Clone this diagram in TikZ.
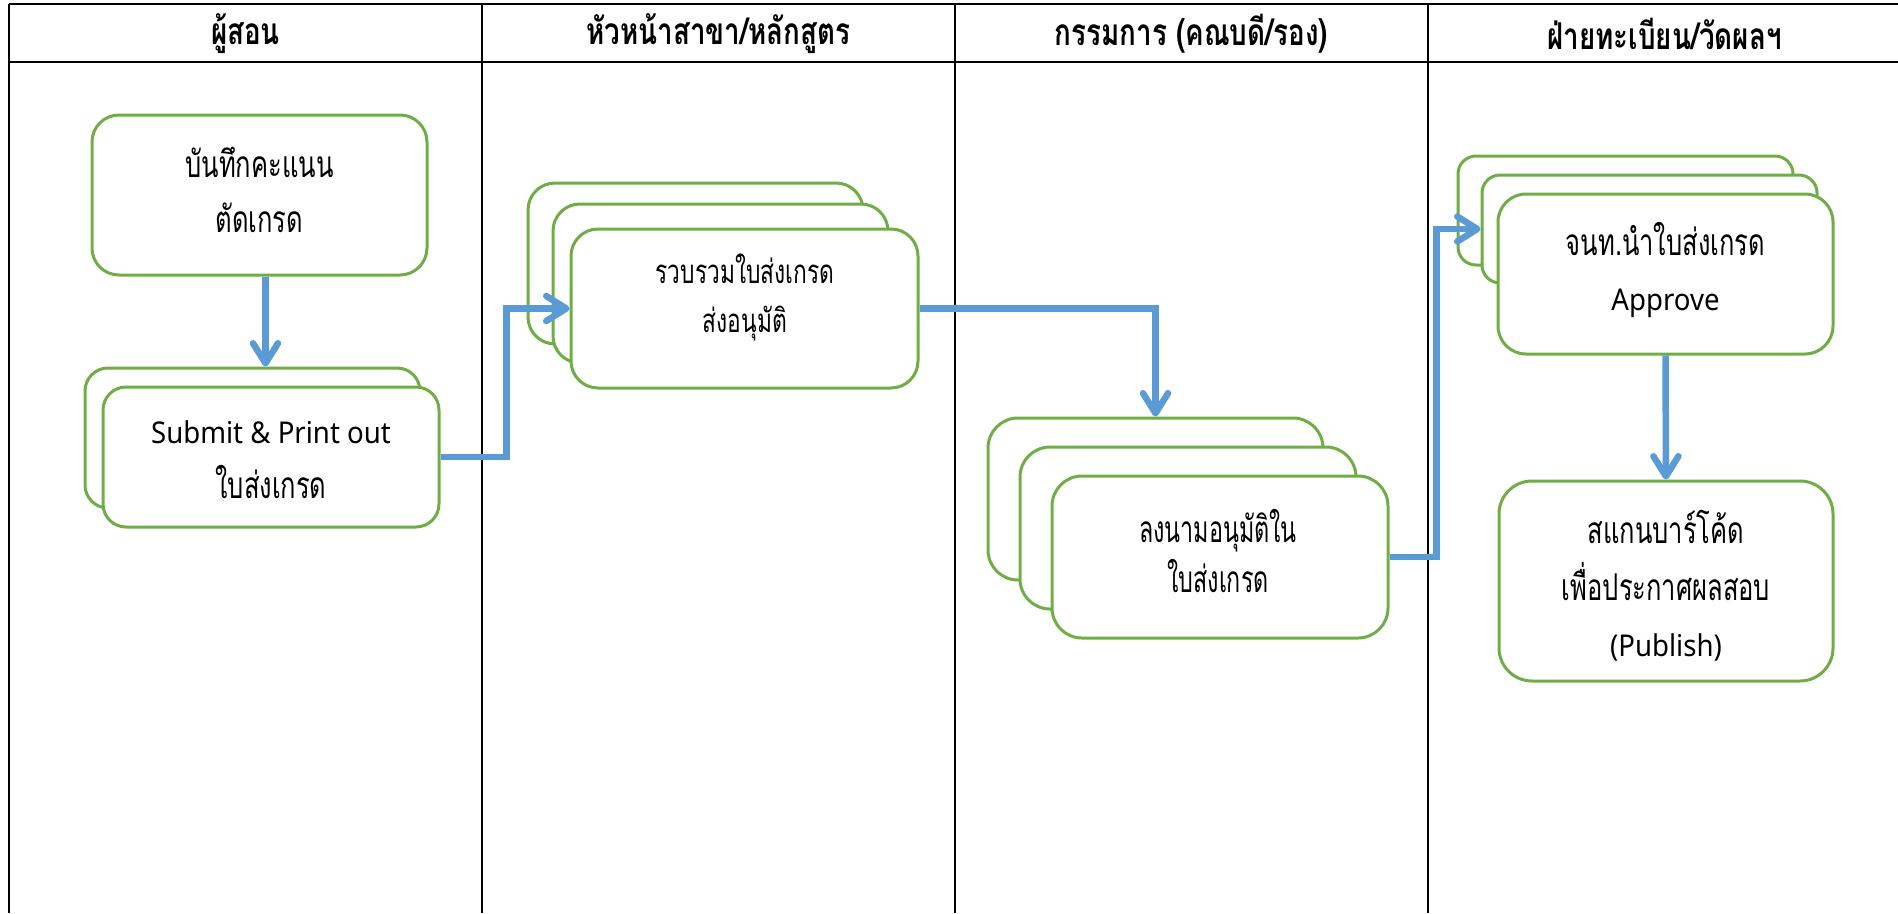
\documentclass[tikz,border=0pt]{standalone}
\usepackage{fontspec}
\newfontfamily\thai[Script=Thai, FakeStretch=0.69]{Loma}
\newfontfamily\thainarrow[Script=Thai, FakeStretch=0.63]{Loma}
\newfontfamily\thaihead[Script=Thai, FakeStretch=0.75]{Loma}
\newfontfamily\latin[FakeStretch=0.92]{Noto Sans}
\usetikzlibrary{arrows.meta}
\definecolor{boxgreen}{HTML}{70AD47}
\definecolor{flowblue}{HTML}{5B9BD5}
\tikzset{
  card/.style={draw=boxgreen, line width=3pt, fill=white, rounded corners=#1,
    inner sep=0pt},
  card/.default=27pt,
  cardtext/.style={align=center, inner sep=0pt,
    font=\thai\fontsize{37pt}{55pt}\selectfont},
  head/.style={font=\thaihead\bfseries\fontsize{37pt}{40pt}\selectfont, inner sep=0pt},
  flow/.style={draw=flowblue, line width=6.5pt,
    -{Straight Barb[length=20pt, width=25pt, round]}},
  rule/.style={line width=2pt},
  lane/.style={line width=1.3pt}
}
\newcommand{\en}[1]{{\latin\fontsize{30pt}{55pt}\selectfont #1}}
\begin{document}
\begin{tikzpicture}[x=1pt, y=-1pt]
\useasboundingbox (0,0) rectangle (1898,913);
\fill[white] (0,0) rectangle (1898,913);

% swimlane table
\draw[rule] (9,4) -- (1898,4);
\draw[rule] (9,62) -- (1898,62);
\draw[lane] (9,4) -- (9,913);
\draw[lane] (482,4) -- (482,913);
\draw[lane] (955,4) -- (955,913);
\draw[lane] (1428,4) -- (1428,913);

\node[head] (h1) at (245.5,34) {ผู้สอน};
\node[head] (h2) at (718.5,34) {หัวหน้าสาขา/หลักสูตร};
\node[head] (h3) at (1191.5,34) {กรรมการ (คณบดี/รอง)};
\node[head] (h4) at (1664.5,34) {ฝ่ายทะเบียน/วัดผลฯ};

% lane 1
\node[card, minimum width=335pt, minimum height=160pt] (b1) at (259.5,195) {};
\node[cardtext] (t1) at (259.5,190) {บันทึกคะแนน\\ตัดเกรด};
\node[card=23pt, minimum width=335pt, minimum height=140pt] (b2a) at (252.5,438) {};
\node[card=23pt, minimum width=336pt, minimum height=140pt] (b2) at (271,457) {};
\node[cardtext] (t2) at (271,460) {\en{Submit \& Print out}\\ใบส่งเกรด};

% lane 2
\node[card, minimum width=335pt, minimum height=161pt] (b3a) at (695.5,263.5) {};
\node[card, minimum width=335pt, minimum height=159pt] (b3b) at (720.5,283.5) {};
\node[card, minimum width=347pt, minimum height=159pt] (b3) at (744.5,308.5) {};
\node[cardtext, font=\thai\fontsize{33pt}{49pt}\selectfont] (t3) at (745,297)
  {รวบรวมใบส่งเกรด\\ส่งอนุมัติ};

% lane 3
\node[card=30pt, minimum width=335pt, minimum height=162pt] (b4a) at (1155.5,499) {};
\node[card=30pt, minimum width=336pt, minimum height=162pt] (b4b) at (1188,528) {};
\node[card=30pt, minimum width=336pt, minimum height=162pt] (b4) at (1220,557) {};
\node[cardtext, font=\thainarrow\fontsize{37pt}{50pt}\selectfont] (t4) at (1218,551)
  {ลงนามอนุมัติใน\\ใบส่งเกรด};

% lane 4
\node[card=18pt, minimum width=335pt, minimum height=109pt] (b5a) at (1625.5,210.5) {};
\node[card=18pt, minimum width=335pt, minimum height=108pt] (b5b) at (1649.5,229) {};
\node[card=28pt, minimum width=335pt, minimum height=160pt] (b5) at (1665.5,274) {};
\node[cardtext] (t5) at (1665.5,270) {จนท.นำใบส่งเกรด\\\en{Approve}};
\node[card=33pt, minimum width=334pt, minimum height=200pt] (b6) at (1666,581) {};
\node[cardtext, font=\thai\fontsize{37pt}{56.5pt}\selectfont] (t6) at (1666,586)
  {สแกนบาร์โค้ด\\เพื่อประกาศผลสอบ\\\en{(Publish)}};

% flow
\draw[flow] ([xshift=6pt]b1.south) -- ([xshift=6pt]b1.south |- b2a.north);
\draw[flow] (b2.east) -- ++(66,0) |- (b3.west);
\draw[flow] (b3.east) -| (b4a.north);
\draw[flow] (b4.east) -- ++(47,0) |- (b5b.west);
\draw[flow] (b5.south) -- (b6.north);
\end{tikzpicture}
\end{document}
